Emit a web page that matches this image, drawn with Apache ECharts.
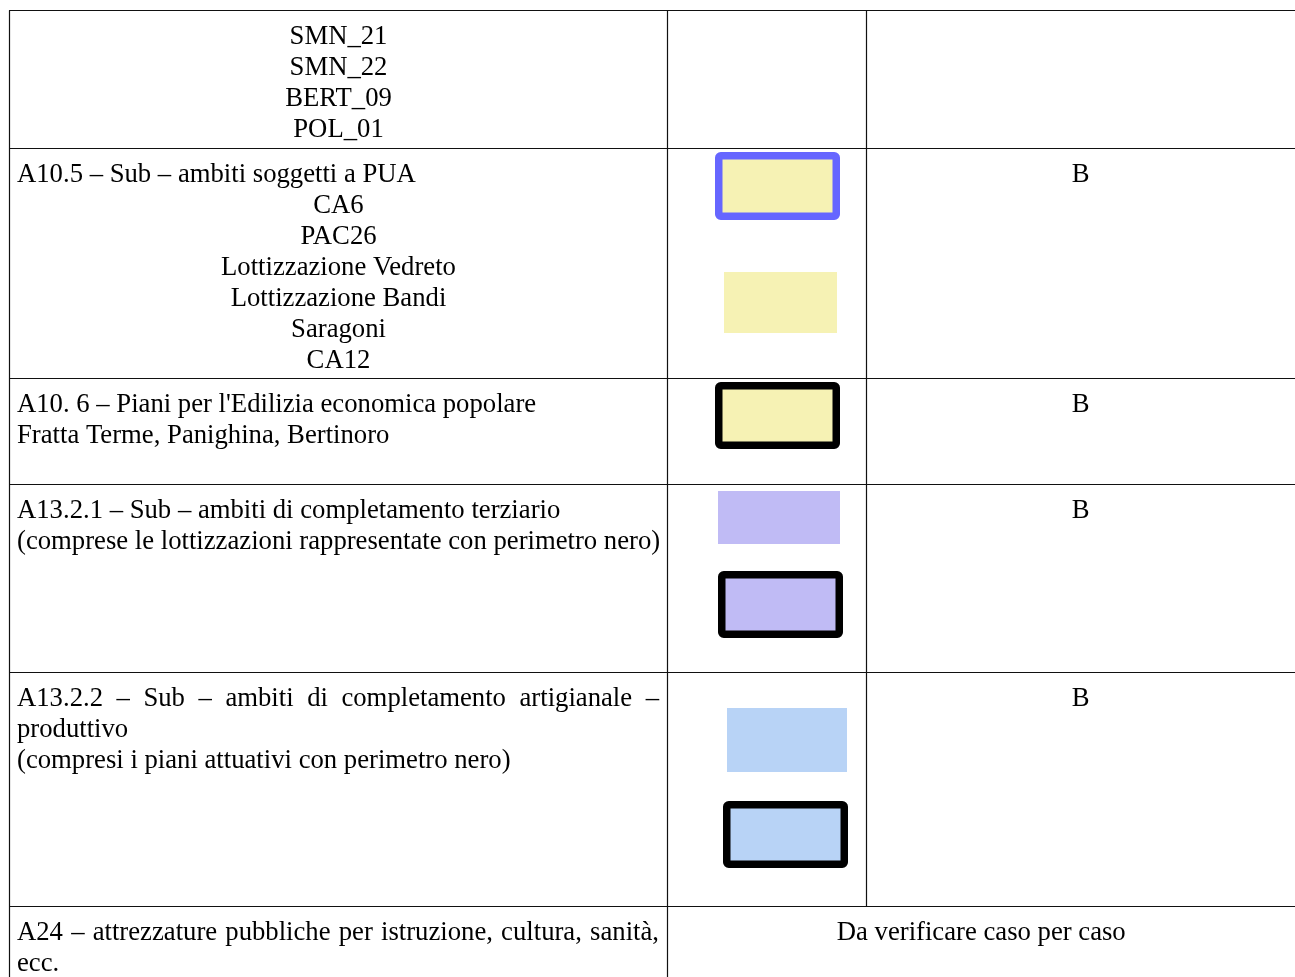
<!DOCTYPE html>
<html><head><meta charset="utf-8">
<script src="https://cdn.jsdelivr.net/npm/echarts@6/dist/echarts.min.js"></script>
<style>html,body{margin:0;padding:0;background:#fff}#c{width:1295px;height:977px}</style>
</head><body><div id="c"></div><script>
// ---- data ----
const zoneTitles = [
  '',
  'A10.5 – Sub – ambiti soggetti a PUA',
  "A10. 6 – Piani per l'Edilizia economica popolare",
  'A13.2.1 – Sub – ambiti di completamento terziario',
  'A13.2.2 – Sub – ambiti di completamento artigianale –',
  'A24 – attrezzature pubbliche per istruzione, cultura, sanità,'
];
const zoneSubLines = [
  ['SMN_21', 'SMN_22', 'BERT_09', 'POL_01'],
  ['CA6', 'PAC26', 'Lottizzazione Vedreto', 'Lottizzazione Bandi', 'Saragoni', 'CA12'],
  ['Fratta Terme, Panighina, Bertinoro'],
  ['(comprese le lottizzazioni rappresentate con perimetro nero)'],
  ['produttivo', '(compresi i piani attuativi con perimetro nero)'],
  ['ecc.']
];
const classLabels = ['', 'B', 'B', 'B', 'B', 'Da verificare caso per caso'];
const swatchFill = ['#f6f2b4', '#f6f2b4', '#f6f2b4', '#c0bbf5', '#c0bbf5', '#b8d3f6', '#b8d3f6'];
const swatchBorder = ['#6666ff', null, '#000000', null, '#000000', null, '#000000'];

// ---- layout ----
const FAMILY = 'Liberation Serif';
const FS = 26.7;
const LH = 31;
const FIRST = 26;
const colX = [9.5, 667.5, 866.5, 1295];
const rowY = [10.5, 148.5, 378.5, 484.5, 672.5, 906.5, 1000];
const textLeft = 17, textRight = 659;
const subAlign = ['center', 'center', 'left', 'left', 'left', 'left'];
const justifyRows = [4, 5];
// swatch outer boxes [x, y, w, h]
const swatchBox = [
  [715, 152, 125, 68], [724, 272, 113, 61], [715, 382, 125, 67],
  [718, 491, 122, 53], [718, 571, 125, 67], [727, 708, 120, 64], [723, 801, 125, 67]
];
const BW = 7.5;

function measure(s) {
  const t = new echarts.graphic.Text({style: {text: s, fontFamily: FAMILY, fontSize: FS}});
  return t.getBoundingRect().width;
}

const g = [];
function txt(s, x, y, align) {
  g.push({type: 'text', x: x, y: y,
    style: {text: s, fill: '#000', fontFamily: FAMILY, fontSize: FS, align: align, verticalAlign: 'middle'}});
}
function justified(s, y) {
  const words = s.split(' ');
  const widths = words.map(measure);
  const total = widths.reduce((a, b) => a + b, 0);
  const gap = (textRight - textLeft - total) / (words.length - 1);
  let x = textLeft;
  words.forEach((w, i) => { txt(w, x, y, 'left'); x += widths[i] + gap; });
}
function line(x1, y1, x2, y2) {
  g.push({type: 'line', shape: {x1, y1, x2, y2}, style: {stroke: '#111', lineWidth: 1.2}});
}

// grid lines
for (let r = 0; r < 6; r++) line(colX[0] - 0.5, rowY[r], colX[3], rowY[r]);
line(colX[0], rowY[0], colX[0], 977);
line(colX[1], rowY[0], colX[1], 977);
line(colX[2], rowY[0], colX[2], rowY[5]);

// texts
for (let r = 0; r < zoneTitles.length; r++) {
  let y = rowY[r] + FIRST;
  const cx1 = (colX[0] + colX[1]) / 2;
  if (zoneTitles[r]) {
    if (justifyRows.includes(r)) justified(zoneTitles[r], y); else txt(zoneTitles[r], textLeft, y, 'left');
    y += LH;
  }
  zoneSubLines[r].forEach(s => {
    if (subAlign[r] === 'center') txt(s, cx1, y, 'center'); else txt(s, textLeft, y, 'left');
    y += LH;
  });
  if (classLabels[r]) {
    const cx = r === 5 ? (colX[1] + colX[3]) / 2 : (colX[2] + colX[3]) / 2;
    txt(classLabels[r], cx, rowY[r] + FIRST, 'center');
  }
}

// swatches
swatchFill.forEach((f, i) => {
  const [x, y, w, h] = swatchBox[i];
  const b = swatchBorder[i];
  if (b) {
    g.push({type: 'rect', shape: {x: x + BW / 2, y: y + BW / 2, width: w - BW, height: h - BW, r: 2},
      style: {fill: f, stroke: b, lineWidth: BW, lineJoin: 'round'}});
  } else {
    g.push({type: 'rect', shape: {x, y, width: w, height: h}, style: {fill: f}});
  }
});

const chart = echarts.init(document.getElementById('c'));
chart.setOption({animation: false, backgroundColor: '#fff', graphic: {elements: g}});
</script></body></html>
